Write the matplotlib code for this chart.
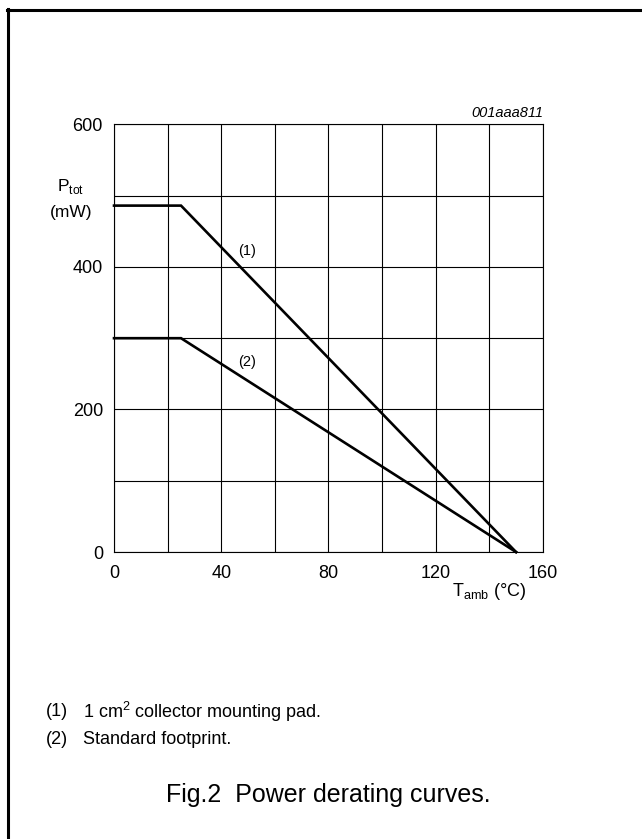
import matplotlib
matplotlib.use("Agg")
import matplotlib.pyplot as plt
from matplotlib.lines import Line2D

plt.rcParams['font.family'] = ['Liberation Sans', 'DejaVu Sans']
plt.rcParams['mathtext.fontset'] = 'custom'
plt.rcParams['mathtext.rm'] = 'Liberation Sans'

# derating curves: ambient temperature (deg C) vs total power (mW)
t_pad = [0, 25, 150]
p_pad = [486, 486, 0]
t_std = [0, 25, 150]
p_std = [300, 300, 0]

x_ticks = [0, 40, 80, 120, 160]
y_ticks = [0, 200, 400, 600]
x_grid = list(range(0, 161, 20))
y_grid = list(range(0, 601, 100))

fig = plt.figure(figsize=(6.42, 8.39), dpi=100)
ax = fig.add_axes([0.1776, 0.342, 0.668, 0.5098])

for x in x_grid:
    ax.axvline(x, color='black', lw=0.8, zorder=1)
for y in y_grid:
    ax.axhline(y, color='black', lw=0.8, zorder=1)

ax.plot(t_pad, p_pad, color='black', lw=1.9, solid_joinstyle='miter', clip_on=False, zorder=3)
ax.plot(t_std, p_std, color='black', lw=1.9, solid_joinstyle='miter', clip_on=False, zorder=3)

ax.set_xlim(0, 160)
ax.set_ylim(0, 600)
ax.set_xticks(x_ticks)
ax.set_yticks(y_ticks)
ax.tick_params(which='both', length=0)
ax.tick_params(axis='y', labelsize=13, pad=8)
ax.tick_params(axis='x', labelsize=13, pad=9)
for s in ax.spines.values():
    s.set_linewidth(0.8)

ax.text(49.5, 423, '(1)', fontsize=10.5, ha='center', va='center')
ax.text(49.5, 267, '(2)', fontsize=10.5, ha='center', va='center')

fig.text(71 / 642, 1 - 187 / 839, r'P$_{\mathrm{tot}}$', fontsize=12.5, ha='center', va='center')
fig.text(71 / 642, 1 - 213 / 839, '(mW)', fontsize=12.5, ha='center', va='center')
fig.text(489 / 642, 1 - 592 / 839, r'T$_{\mathrm{amb}}$ (°C)', fontsize=13, ha='center', va='center')
fig.text(543 / 642, 1 - 113 / 839, '001aaa811', fontsize=10.5, style='italic', ha='right', va='center')

fig.text(46 / 642, 1 - 712 / 839, '(1)', fontsize=13, ha='left', va='center')
fig.text(83 / 642, 1 - 712 / 839, r'1 cm$^{\mathrm{2}}$ collector mounting pad.', fontsize=13, ha='left', va='center')
fig.text(46 / 642, 1 - 740 / 839, '(2)', fontsize=13, ha='left', va='center')
fig.text(83 / 642, 1 - 740 / 839, 'Standard footprint.', fontsize=13, ha='left', va='center')

fig.text(328 / 642, 1 - 795 / 839, 'Fig.2  Power derating curves.', fontsize=18, ha='center', va='center')

# page frame, left and top edges only
fig.add_artist(Line2D([8 / 642, 8 / 642], [0, 1 - 9 / 839], color='black', lw=2.2, transform=fig.transFigure))
fig.add_artist(Line2D([7 / 642, 1], [1 - 10 / 839, 1 - 10 / 839], color='black', lw=2.2, transform=fig.transFigure))

fig.savefig('out.png', dpi=100)
